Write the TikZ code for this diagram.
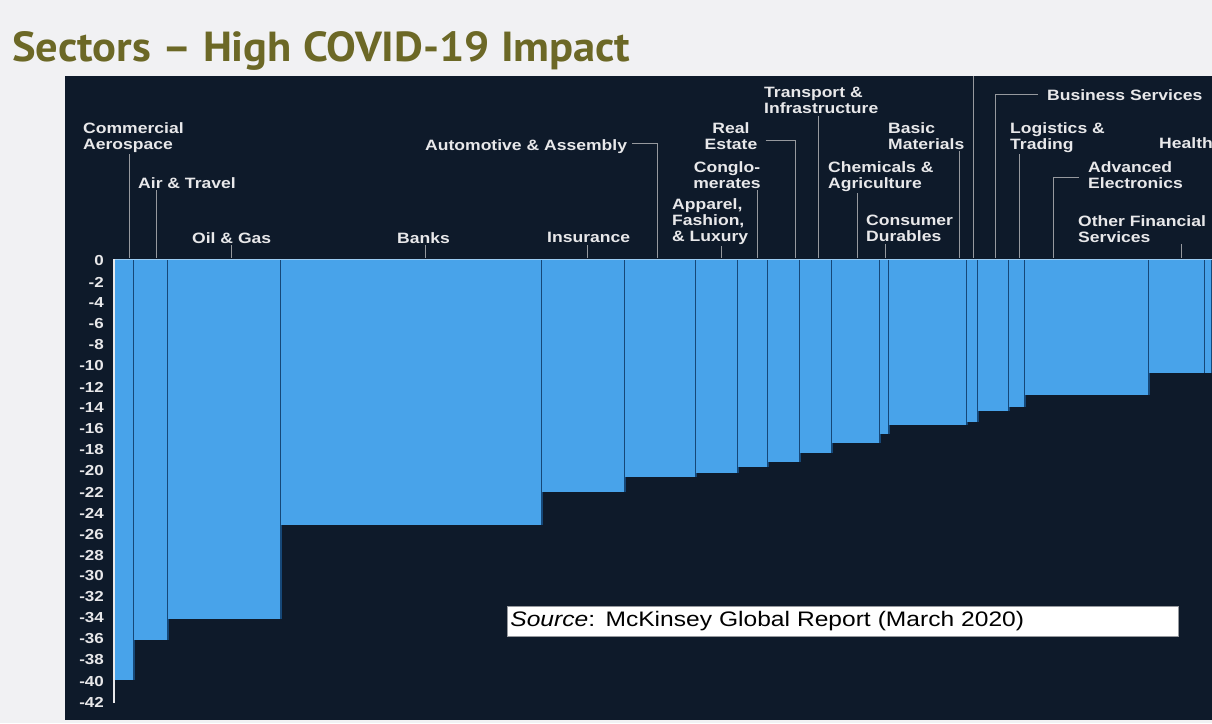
\documentclass[tikz,border=0pt]{standalone}
\usepackage{fontspec}
\setmainfont{Liberation Sans}
\newfontfamily\chartfont[FakeStretch=1.17]{Liberation Sans}
\newfontfamily\titlefont[FakeStretch=1.06]{PT Sans}

\definecolor{pagegrey}{RGB}{241,241,243}
\definecolor{panel}{RGB}{14,26,42}
\definecolor{barblue}{RGB}{72,163,234}
\definecolor{sepblue}{RGB}{22,72,120}
\definecolor{olive}{RGB}{108,104,38}
\definecolor{leadgrey}{RGB}{150,153,158}
\definecolor{txtgrey}{RGB}{232,232,234}

\tikzset{
  lbl/.style={text=txtgrey, inner sep=0pt, align=left, anchor=north west,
    font=\chartfont\bfseries\fontsize{15pt}{16pt}\selectfont},
  lblc/.style={lbl, align=center, anchor=north},
  ylbl/.style={text=txtgrey, inner sep=0pt, anchor=east,
    font=\chartfont\bfseries\fontsize{14.5pt}{15pt}\selectfont},
  leader/.style={draw=leadgrey, line width=1pt},
  sep/.style={draw=sepblue, line width=1.4pt}
}

\begin{document}
\begin{tikzpicture}[x=1pt,y=-1pt]

 \useasboundingbox (0,0) rectangle (1212,723);
 \fill[pagegrey] (0,0) rectangle (1212,723);
 \fill[panel] (65,76) rectangle (1212,720);

 \node[anchor=base west, inner sep=0pt, text=olive,
   font=\titlefont\bfseries\fontsize{42pt}{42pt}\selectfont] (title) at (12,61)
   {Sectors \textendash{} High COVID-19 Impact};

 % bars: left / right / depth
 \foreach \a/\b/\v in {114/134/40, 134/168/36.2, 168/281/34.2, 281/542/25.2,
   542/625/22.1, 625/696/20.7, 696/738/20.3, 738/768/19.7, 768/800/19.2,
   800/832/18.4, 832/880/17.4, 880/889/16.6, 889/967/15.7, 967/978/15.4,
   978/1009/14.4, 1009/1025/14.0, 1025/1149/12.9, 1149/1205/10.8, 1205/1212/10.8}
 {
   \fill[barblue] (\a,260) rectangle (\b,{260+10.5*\v});
   \draw[sep] (\b,260) -- (\b,{260+10.5*\v});
 }
 \draw[draw=barblue!55!white, line width=1.2pt] (114,259.5) -- (1212,259.5);
 \draw[draw=txtgrey, line width=1.2pt] (114,259) -- (114,703);

 % axis
 \foreach \k in {0,-2,...,-42}
   \node[ylbl] (y\k) at (104,{261-10.5*\k}) {\k};

 % labels
 \node[lbl] (comaero) at (83,122) {Commercial\\Aerospace};
 \node[lbl] (airtr) at (138,177) {Air \& Travel};
 \node[lbl] (oilgas) at (192,232) {Oil \& Gas};
 \node[lbl] (banks) at (397,232) {Banks};
 \node[lbl] (insur) at (547,232) {Insurance};
 \node[lbl] (auto) at (425,139) {Automotive \& Assembly};
 \node[lbl] (apparel) at (672,198) {Apparel,\\Fashion,\\\& Luxury};
 \node[lblc] (conglo) at (727,161) {Conglo-\\merates};
 \node[lblc] (realest) at (731,122) {Real\\Estate};
 \node[lbl] (transp) at (764,87) {Transport \&\\Infrastructure};
 \node[lbl] (chem) at (828,161) {Chemicals \&\\Agriculture};
 \node[lbl] (consum) at (866,215) {Consumer\\Durables};
 \node[lbl] (basic) at (888,122) {Basic\\Materials};
 \node[lbl] (busserv) at (1047,89) {Business Services};
 \node[lbl] (logist) at (1010,122) {Logistics \&\\Trading};
 \node[lbl] (health) at (1159,137) {Health};
 \node[lbl] (advel) at (1088,161) {Advanced\\Electronics};
 \node[lbl] (othfin) at (1078,215) {Other Financial\\Services};

 % leader ends on top of the bars
 \coordinate (cComAero) at (129,258);
 \coordinate (cAirTr) at (156,258);
 \coordinate (cOilGas) at (231,258);
 \coordinate (cBanks) at (425,258);
 \coordinate (cInsur) at (587,258);
 \coordinate (cAuto) at (657,258);
 \coordinate (cApparel) at (721,258);
 \coordinate (cConglo) at (757,258);
 \coordinate (cRealEst) at (795,258);
 \coordinate (cTransp) at (818,258);
 \coordinate (cChem) at (857,258);
 \coordinate (cConsum) at (885,258);
 \coordinate (cBasic) at (959,258);
 \coordinate (cUpTop) at (973,76);
 \coordinate (cUp) at (973,258);
 \coordinate (cBusServ) at (995,258);
 \coordinate (cLogist) at (1019,258);
 \coordinate (cAdvEl) at (1053,258);
 \coordinate (cOthFin) at (1181,258);

 \draw[leader] ([yshift=-2pt]comaero.south -| cComAero) -- (cComAero);
 \draw[leader] ([yshift=-2pt]airtr.south -| cAirTr) -- (cAirTr);
 \draw[leader] ([yshift=-2pt]oilgas.south -| cOilGas) -- (cOilGas);
 \draw[leader] ([yshift=-2pt]banks.south -| cBanks) -- (cBanks);
 \draw[leader] ([yshift=-2pt]insur.south -| cInsur) -- (cInsur);
 \draw[leader] ([xshift=5pt,yshift=3pt]auto.east) -| (cAuto);
 \draw[leader] ([yshift=-2pt]apparel.south -| cApparel) -- (cApparel);
 \draw[leader] ([yshift=-2pt]conglo.south -| cConglo) -- (cConglo);
 \draw[leader] ([xshift=8pt,yshift=-5pt]realest.east) -| (cRealEst);
 \draw[leader] ([yshift=-2pt]transp.south -| cTransp) -- (cTransp);
 \draw[leader] ([yshift=-2pt]chem.south -| cChem) -- (cChem);
 \draw[leader] ([yshift=-2pt]consum.south -| cConsum) -- (cConsum);
 \draw[leader] ([yshift=-2pt]basic.south -| cBasic) -- (cBasic);
 \draw[leader] (cUpTop) -- (cUp);
 \draw[leader] ([xshift=-9pt]busserv.west) -| (cBusServ);
 \draw[leader] ([yshift=-2pt]logist.south -| cLogist) -- (cLogist);
 \draw[leader] ([xshift=-9pt,yshift=-3pt]advel.west) -| (cAdvEl);
 \draw[leader] ([yshift=-2pt]othfin.south -| cOthFin) -- (cOthFin);

 % source
 \node[draw=leadgrey, fill=white, line width=0.8pt, anchor=north west,
   minimum width=671pt, minimum height=30pt, text width=665pt, align=left,
   inner xsep=3pt, inner ysep=0pt,
   font=\chartfont\fontsize{21pt}{22pt}\selectfont] (source) at (507,606)
   {\textit{Source}: McKinsey Global Report (March 2020)};

\end{tikzpicture}
\end{document}
